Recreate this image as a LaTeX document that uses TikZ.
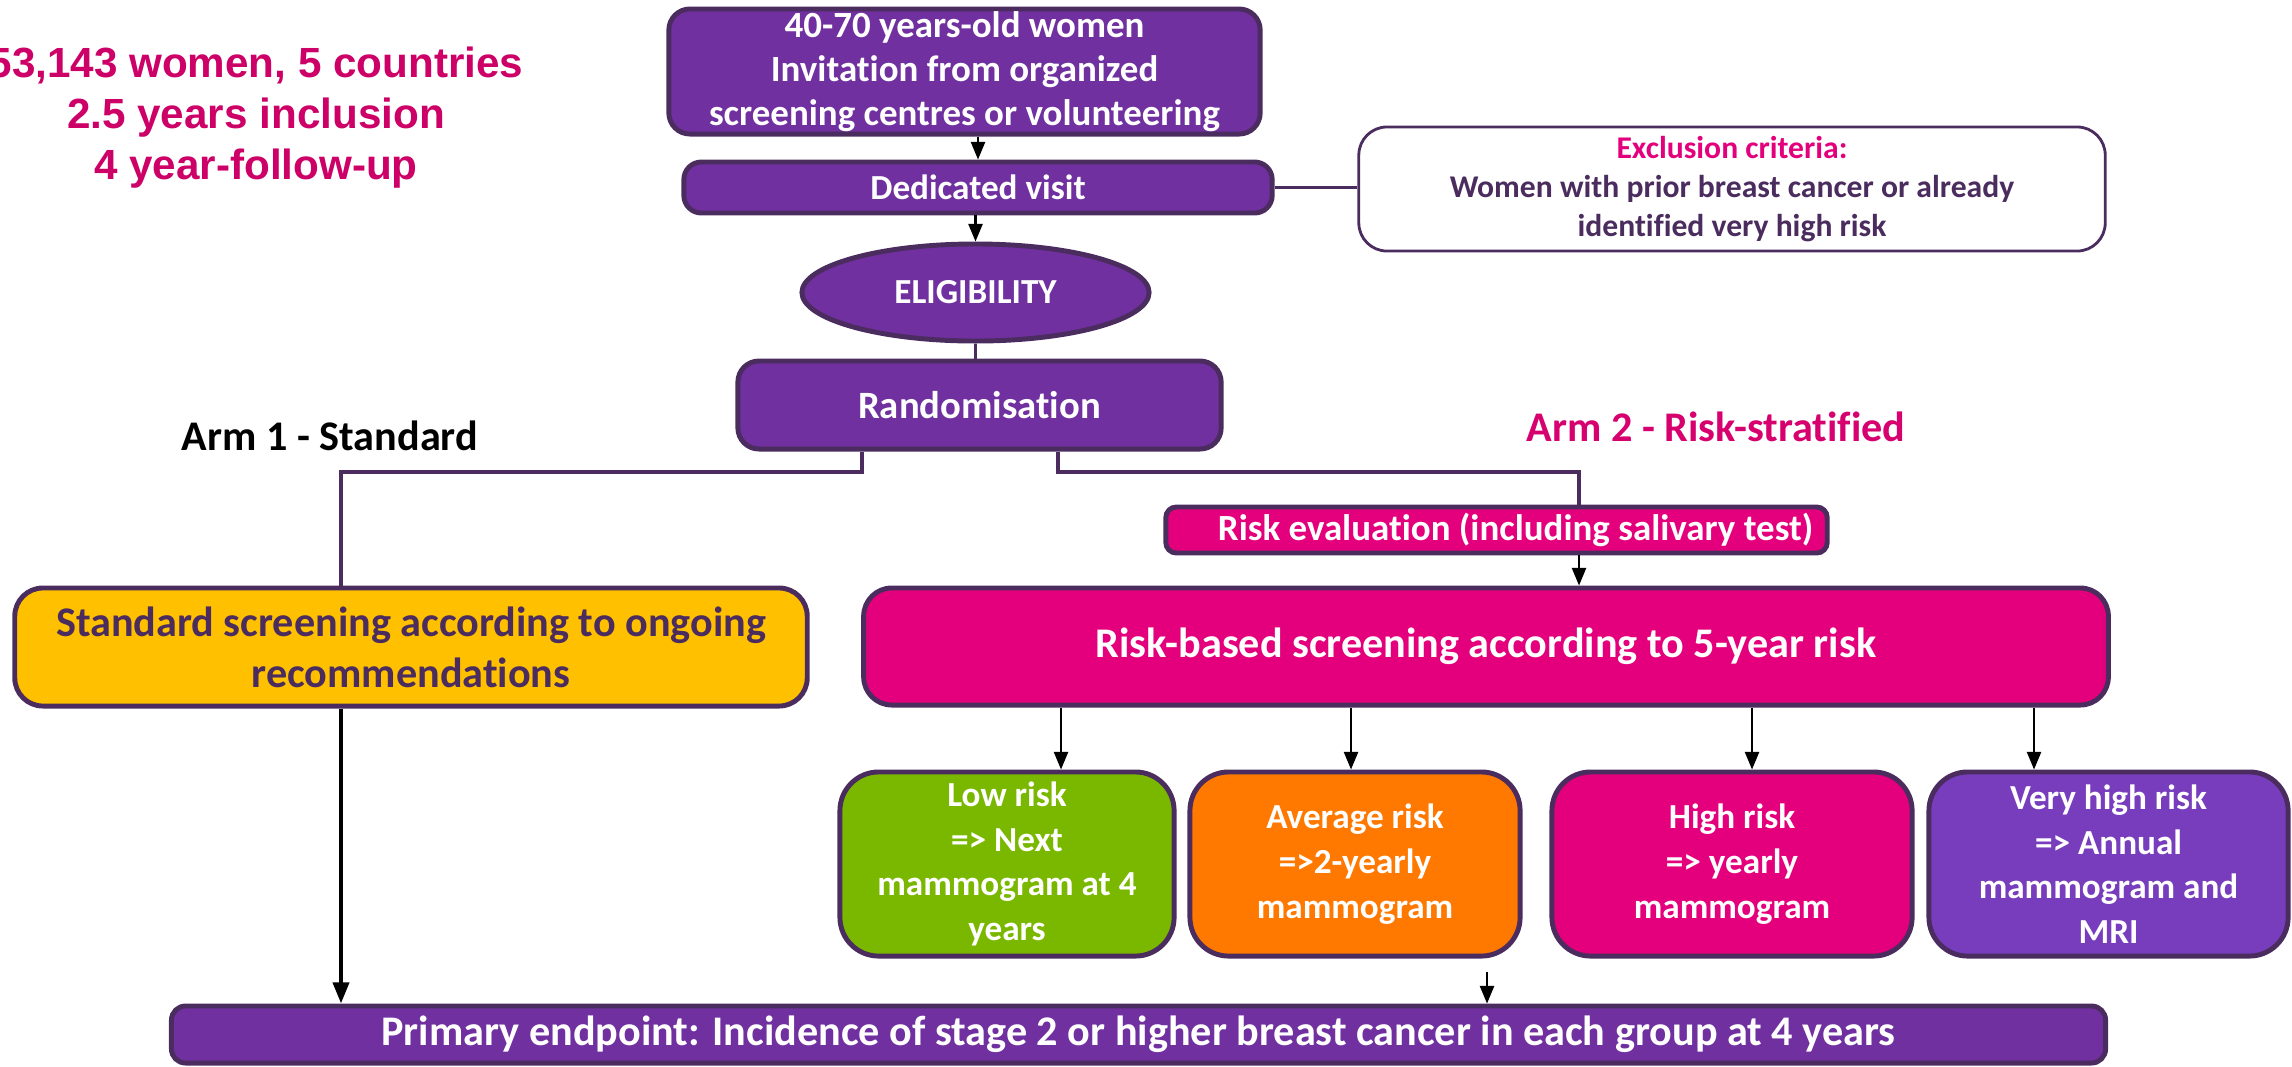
\documentclass[tikz,border=0pt]{standalone}
\usepackage{fontspec}
\setmainfont{Carlito}[Ligatures=NoCommon]
\newfontfamily\arialfont{Liberation Sans}
\usetikzlibrary{shapes.geometric,arrows.meta}
\definecolor{ppl}{HTML}{7030A0}
\definecolor{bdr}{HTML}{4B2C5E}
\definecolor{mag}{HTML}{E4007C}
\definecolor{grn}{HTML}{7AB800}
\definecolor{org}{HTML}{FF7800}
\definecolor{vpl}{HTML}{773DBD}
\definecolor{ylw}{HTML}{FFC000}
\definecolor{tmag}{HTML}{CC0066}
\definecolor{amag}{HTML}{D6006F}
\newcommand{\fsz}[2]{\fontsize{#1}{#2}\selectfont}
\begin{document}
\begin{tikzpicture}[x=0.01cm,y=-0.01cm,
  box/.style={draw=bdr, line width=1.4pt, rounded corners=6pt, align=center, text=white, inner sep=0pt},
  conn/.style={draw=bdr, line width=1pt},
  arr/.style={draw=black, line width=0.6pt, -{Triangle[length=5pt,width=4pt]}},
  arrthick/.style={draw=black, line width=1.2pt, -{Triangle[length=6pt,width=4.5pt]}},
  riskbox/.style={box, rounded corners=11pt, minimum height=1.84cm, font=\bfseries\fsz{10}{12.7}}
]
\useasboundingbox (0,0) rectangle (2292,1066);

% top-left info
\node[align=center, text=tmag, font=\arialfont\bfseries\fsz{12}{14.5}] (info) at (256,118)
  {53,143 women, 5 countries\\2.5 years inclusion\\4 year-follow-up};

% main flow
\node[box, fill=ppl, minimum width=5.91cm, minimum height=1.25cm, font=\bfseries\fsz{10.5}{12.5}] (top) at (964.5,71.5)
  {40-70 years-old women\\Invitation from organized\\screening centres or volunteering};
\node[box, fill=ppl, rounded corners=5pt, minimum width=5.88cm, minimum height=0.51cm, font=\bfseries\fsz{10}{12}] (dv) at (978,187.5)
  {Dedicated visit};
\node[box, fill=white, draw=bdr, line width=0.8pt, rounded corners=8pt, text=bdr, minimum width=7.46cm, minimum height=1.24cm, font=\bfseries\fsz{9}{11.2}] (excl) at (1732,189)
  {\textcolor{mag}{Exclusion criteria:}\\Women with prior breast cancer or already\\identified very high risk};
\node[box, ellipse, fill=ppl, minimum width=3.47cm, minimum height=0.97cm, font=\bfseries\fsz{10}{12}] (elig) at (975.5,292.5)
  {ELIGIBILITY};
\node[box, fill=ppl, minimum width=4.83cm, minimum height=0.88cm, font=\bfseries\fsz{11}{13}] (rand) at (979.5,405)
  {Randomisation};

% arm labels
\node[font=\bfseries\fsz{12}{14}, text=black] (arm1) at (330,436) {Arm 1 - Standard};
\node[font=\bfseries\fsz{12}{14}, text=amag] (arm2) at (1716,427) {Arm 2 - Risk-stratified};

% arm 1
\node[box, fill=ylw, text=bdr, rounded corners=8pt, minimum width=7.92cm, minimum height=1.18cm, font=\bfseries\fsz{12}{14.5}] (std) at (411,647)
  {Standard screening according to ongoing\\recommendations};

% arm 2
\node[box, fill=mag, rounded corners=3pt, minimum width=6.61cm, minimum height=0.46cm, font=\bfseries\fsz{10.5}{12.5}] (re) at (1496.5,530)
  {\hspace*{0.38cm}Risk evaluation (including salivary test)};
\node[box, fill=mag, rounded corners=8pt, minimum width=12.44cm, minimum height=1.17cm, font=\bfseries\fsz{12}{14.5}] (rb) at (1486,646.5)
  {Risk-based screening according to 5-year risk};

\node[riskbox, fill=grn, minimum width=3.34cm] (low) at (1007,864)
  {Low risk\\=> Next\\mammogram at 4\\years};
\node[riskbox, fill=org, minimum width=3.30cm] (avg) at (1355,864)
  {Average risk\\=>2-yearly\\mammogram};
\node[riskbox, fill=mag, minimum width=3.60cm] (high) at (1732,864)
  {High risk\\=> yearly\\mammogram};
\node[riskbox, fill=vpl, minimum width=3.59cm] (vhigh) at (2108.5,864)
  {Very high risk\\=> Annual\\mammogram and\\MRI};

% endpoint
\node[box, fill=ppl, rounded corners=4pt, minimum width=19.33cm, minimum height=0.57cm, font=\bfseries\fsz{12}{14}] (prim) at (1138.5,1034.5)
  {Primary endpoint: Incidence of stage 2 or higher breast cancer in each group at 4 years};

% coordinates for connector x positions
\coordinate (jl) at (862,472);
\coordinate (jr) at (1058,472);
\coordinate (sl) at (341,0);
\coordinate (rx) at (1579,0);
\coordinate (a1) at (1061,0);
\coordinate (a2) at (1351,0);
\coordinate (a3) at (1752,0);
\coordinate (a4) at (2034,0);
\coordinate (fa) at (1487,972);

% connectors
\draw[arr] (dv.north |- top.south) -- (dv.north);
\draw[arr] (elig.north |- dv.south) -- (elig.north);
\draw[conn] (elig.south) -- (elig.south |- rand.north);
\draw[conn, line width=0.7pt] (dv.east) -- (excl.west |- dv.east);
\draw[conn] (rand.south -| jl) -- (jl) -| (std.north -| sl);
\draw[conn] (rand.south -| jr) -- (jr) -| (re.north -| rx);
\draw[arr] (re.south -| rx) -- (rb.north -| rx);
\draw[arr] (rb.south -| a1) -- (low.north -| a1);
\draw[arr] (rb.south -| a2) -- (avg.north -| a2);
\draw[arr] (rb.south -| a3) -- (high.north -| a3);
\draw[arr] (rb.south -| a4) -- (vhigh.north -| a4);
\draw[arrthick] (std.south -| sl) -- (prim.north -| sl);
\draw[arr] (fa) -- (prim.north -| fa);
\end{tikzpicture}
\end{document}
